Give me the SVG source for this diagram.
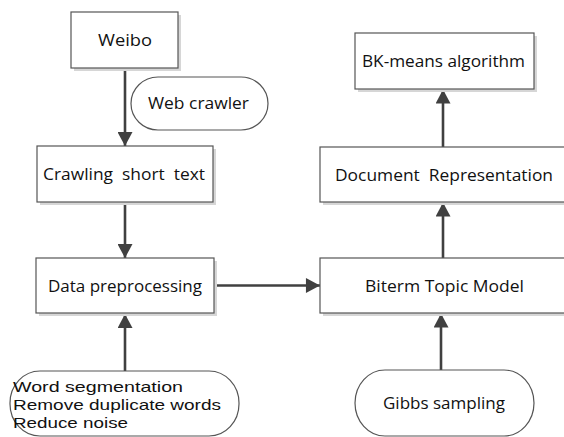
<svg xmlns="http://www.w3.org/2000/svg" width="564" height="437" viewBox="0 0 564 437">
<defs>
<style>
.box{fill:#fff;stroke:#555;stroke-width:1.2}
.shd{fill:#d6d6d6}
.t{font-family:"Open Sans","Liberation Sans",sans-serif;font-size:16px;fill:#111;text-anchor:middle}
.tl{font-family:"Liberation Sans","Open Sans",sans-serif;font-size:15px;fill:#111}
.c{stroke:#404040;stroke-width:2.6;fill:none}
</style>
<marker id="ah" markerUnits="userSpaceOnUse" markerWidth="16" markerHeight="15" refX="15" refY="8" orient="auto" viewBox="0 0 16 16">
<path d="M0,0 L15,8 L0,16 Z" fill="#404040"/>
</marker>
</defs>
<rect width="564" height="437" fill="#fff"/>
<g id="connectors">
<line class="c" x1="125" y1="68" x2="125" y2="146" marker-end="url(#ah)"/>
<line class="c" x1="125" y1="202" x2="125" y2="258" marker-end="url(#ah)"/>
<line class="c" x1="125" y1="371" x2="125" y2="314" marker-end="url(#ah)"/>
<line class="c" x1="214" y1="285.5" x2="320" y2="285.5" marker-end="url(#ah)"/>
<line class="c" x1="441" y1="370" x2="441" y2="313.5" marker-end="url(#ah)"/>
<line class="c" x1="443" y1="258" x2="443" y2="202.5" marker-end="url(#ah)"/>
<line class="c" x1="443" y1="147" x2="443" y2="89.5" marker-end="url(#ah)"/>
</g>
<g id="weibo">
<rect class="shd" x="74" y="15" width="107" height="56"/>
<rect class="box" x="71" y="12" width="107" height="56"/>
<text class="t" x="125" y="45.5" textLength="54" lengthAdjust="spacingAndGlyphs">Weibo</text>
</g>
<g id="web-crawler">
<rect class="box" x="131" y="77" width="137" height="53" rx="27" ry="26.5"/>
<text class="t" x="198.5" y="109" textLength="101" lengthAdjust="spacingAndGlyphs">Web crawler</text>
</g>
<g id="crawling">
<rect class="shd" x="40" y="149" width="176" height="56"/>
<rect class="box" x="37" y="146" width="176" height="56"/>
<text class="t" x="124" y="180" xml:space="preserve" textLength="162" lengthAdjust="spacingAndGlyphs">Crawling  short  text</text>
</g>
<g id="preprocessing">
<rect class="shd" x="39" y="261" width="178" height="55"/>
<rect class="box" x="36" y="258" width="178" height="55"/>
<text class="t" x="125" y="291.5" textLength="154" lengthAdjust="spacingAndGlyphs">Data preprocessing</text>
</g>
<g id="preprocess-steps">
<rect class="box" x="10" y="371" width="229" height="65" rx="30" ry="32"/>
<text class="tl" x="13" y="391.5" textLength="170" lengthAdjust="spacingAndGlyphs">Word segmentation</text>
<text class="tl" x="13" y="409.5" textLength="208" lengthAdjust="spacingAndGlyphs">Remove duplicate words</text>
<text class="tl" x="13" y="427.5" textLength="115" lengthAdjust="spacingAndGlyphs">Reduce noise</text>
</g>
<g id="biterm">
<rect class="shd" x="323" y="261" width="250" height="55"/>
<rect class="box" x="320" y="258" width="248" height="55"/>
<text class="t" x="444.5" y="291.5" textLength="159" lengthAdjust="spacingAndGlyphs">Biterm Topic Model</text>
</g>
<g id="gibbs">
<rect class="box" x="355" y="370" width="179" height="66" rx="30" ry="33"/>
<text class="t" x="444" y="408.5" textLength="122" lengthAdjust="spacingAndGlyphs">Gibbs sampling</text>
</g>
<g id="document">
<rect class="shd" x="323" y="150" width="250" height="55"/>
<rect class="box" x="320" y="147" width="248" height="55"/>
<text class="t" x="444" y="180.5" xml:space="preserve" textLength="218" lengthAdjust="spacingAndGlyphs">Document  Representation</text>
</g>
<g id="bkmeans">
<rect class="shd" x="358" y="36" width="179" height="56"/>
<rect class="box" x="355" y="33" width="179" height="56"/>
<text class="t" x="443.5" y="66.5" textLength="163" lengthAdjust="spacingAndGlyphs">BK-means algorithm</text>
</g>
</svg>
